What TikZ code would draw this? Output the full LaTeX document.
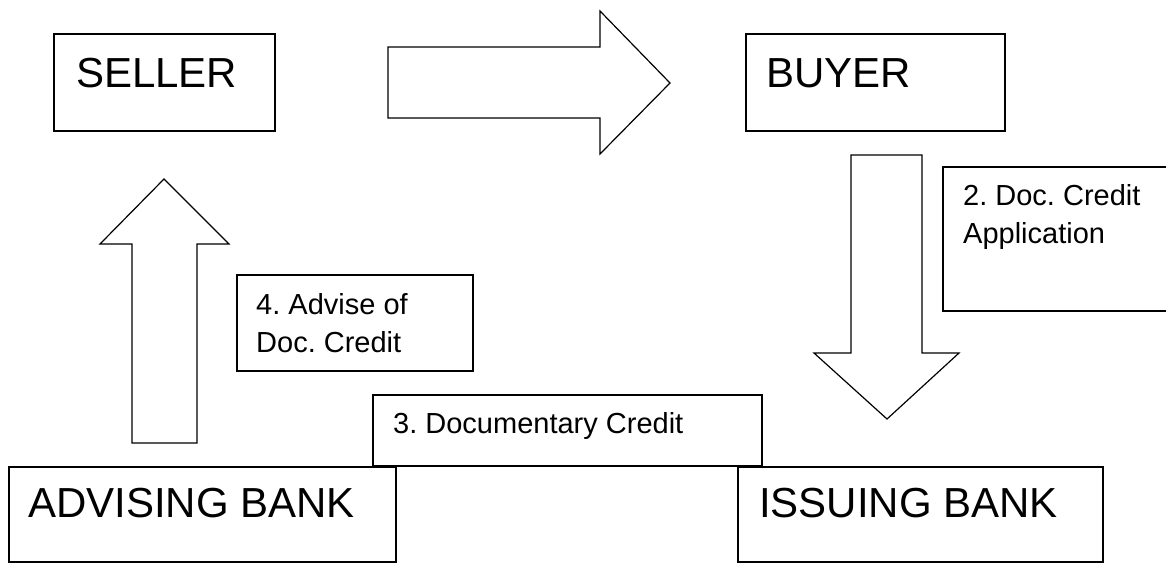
\documentclass[tikz,border=0pt]{standalone}
\usepackage{fontspec}
\setmainfont{Liberation Sans}
\frenchspacing
\begin{document}
\begin{tikzpicture}[x=1pt,y=-1pt,
  bigbox/.style={draw=black,line width=1.5pt},
  smallbox/.style={draw=black,line width=1.2pt},
  blockarrow/.style={draw=black,line width=1.2pt,line join=miter,fill=white},
  bigtext/.style={inner sep=0pt,anchor=base west,font=\fontsize{42}{50}\selectfont},
  smalltext/.style={inner sep=0pt,anchor=base west,align=left,font=\fontsize{29}{38}\selectfont}]
\useasboundingbox (0,0) rectangle (1166,563);
% boxes
\draw[bigbox] (54,34) rectangle (275,131);
\node[bigtext] (seller) at (76,87) {SELLER};
\draw[bigbox] (746,34) rectangle (1005,131);
\node[bigtext] (buyer) at (766,87) {BUYER};
\draw[smallbox] (943,167) rectangle (1180,311);
\node[smalltext] (lab2) at (963,243) {2. Doc. Credit\\Application};
\draw[smallbox] (237,275) rectangle (473,371);
\node[smalltext] (lab4) at (256,352) {4. Advise of\\Doc. Credit};
\draw[smallbox] (373,395) rectangle (762,466);
\node[smalltext] (lab3) at (393,433) {3. Documentary Credit};
\draw[bigbox] (9,467) rectangle (396,562);
\node[bigtext] (advising) at (28,517) {ADVISING BANK};
\draw[bigbox] (738,467) rectangle (1103,562);
\node[bigtext] (issuing) at (759,517) {ISSUING BANK};
% block arrows
\draw[blockarrow] (388,47) -- (600,47) -- (600,11) -- (670,83) -- (600,154) -- (600,118) -- (388,118) -- cycle;
\draw[blockarrow] (851,155) -- (922,155) -- (922,353) -- (959,353) -- (887,419) -- (814,353) -- (851,353) -- cycle;
\draw[blockarrow] (132,443) -- (132,244) -- (100,244) -- (164,179) -- (229,244) -- (197,244) -- (197,443) -- cycle;
\end{tikzpicture}
\end{document}
